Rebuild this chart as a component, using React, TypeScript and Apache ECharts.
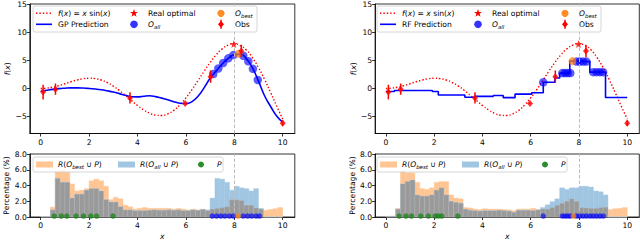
import { useEffect, useRef } from "react";
import * as echarts from "echarts";

// ---------------- data ----------------
const FX_X = [0, 0.25, 0.5, 0.75, 1, 1.25, 1.5, 1.75, 2, 2.25, 2.5, 2.75, 3, 3.25, 3.5, 3.75, 4, 4.25, 4.5, 4.75, 5, 5.25, 5.5, 5.75, 6, 6.25, 6.5, 6.75, 7, 7.25, 7.5, 7.75, 8, 8.25, 8.5, 8.75, 9, 9.25, 9.5, 9.75, 10];
const FX_Y = [0, 0.062, 0.24, 0.511, 0.841, 1.186, 1.496, 1.722, 1.819, 1.743, 1.496, 1.05, 0.423, -0.352, -1.228, -2.144, -3.027, -3.804, -4.399, -4.747, -4.795, -4.509, -3.898, -2.923, -1.676, -0.208, 1.402, 3.038, 4.599, 5.969, 7.035, 7.707, 7.915, 7.61, 6.847, 5.464, 3.709, 1.607, -0.712, -3.115, -5.44];

const GP_X = [0, 0.25, 0.5, 0.75, 1, 1.25, 1.5, 1.75, 2, 2.25, 2.5, 2.75, 3, 3.25, 3.5, 3.75, 4, 4.25, 4.5, 4.75, 5, 5.25, 5.5, 5.75, 6, 6.25, 6.5, 6.75, 7, 7.25, 7.5, 7.75, 8, 8.25, 8.5, 8.75, 9, 9.25, 9.5, 9.75, 10];
const GP_Y = [-0.5, -0.33, -0.17, -0.03, 0.05, 0.1, 0.1, 0.07, 0.0, -0.1, -0.23, -0.42, -0.64, -0.92, -1.22, -1.48, -1.5, -1.38, -1.3, -1.45, -1.72, -2.0, -2.35, -2.62, -2.7, -2.35, -1.4, 0.1, 1.8, 3.1, 4.35, 5.35, 6.0, 6.1, 5.3, 3.65, 1.3, -1.3, -3.2, -4.9, -6.0];

// random-forest step prediction: value holds from this x to the next x
const RF_X = [0, 0.35, 1.92, 2.17, 3.27, 3.69, 4.45, 4.86, 5.35, 6.04, 6.52, 7.0, 7.2, 7.62, 7.83, 8.45, 9.1, 10];
const RF_Y = [-0.55, -0.37, -0.55, -1.16, -1.55, -1.4, -1.25, -1.63, -1.0, -0.76, 1.1, 1.86, 2.73, 4.88, 4.77, 2.9, -1.6, -1.6];

const OBS_X = [0.1, 0.61, 3.69, 5.97, 7.02, 8.29, 10.0];
const OBS_Y = [-0.64, -0.12, -1.69, -2.67, 2.1, 6.65, -6.16];
const OBS_ERR = [1.3, 1.0, 1.0, 0.1, 1.1, 1.1, 0.5];
const REAL_OPT = [7.98, 7.9];

const GP_ALL_X = [7.13, 7.34, 7.54, 7.75, 7.96, 8.37, 8.58, 8.77, 8.97];
const GP_ALL_Y = [2.56, 3.55, 4.53, 5.35, 5.93, 5.81, 4.83, 3.49, 1.51];
const GP_BEST = [8.18, 6.16];

const RF_ALL_X = [6.52, 7.31, 7.42, 7.53, 7.64, 7.9, 8.03, 8.17, 8.31, 8.59, 8.73, 8.87, 9.0];
const RF_ALL_Y = [1.1, 2.73, 2.73, 2.73, 2.73, 4.77, 4.77, 4.77, 4.77, 2.9, 2.9, 2.9, 2.9];
const RF_BEST = [7.73, 4.85];

// histograms, 50 bins of width 0.2 starting at 0
const BIN_W = 0.2;
const BL_BEST = [0.05, 0.05, 1.25, 5.8, 6.0, 5.7, 4.2, 3.3, 3.4, 3.6, 4.6, 4.8, 4.6, 3.9, 2.2, 2.5, 2.3, 1.5, 1.3, 1.0, 1.1, 1.2, 1.1, 1.1, 1.1, 1.1, 1.1, 1.0, 1.1, 1.0, 0.9, 1.0, 0.9, 1.0, 0.8, 1.0, 1.1, 1.2, 1.3, 2.2, 2.2, 2.1, 1.5, 1.5, 1.15, 1.0, 0.85, 0.95, 1.05, 1.2];
const BL_ALL = [0.05, 0.05, 0.9, 4.9, 4.4, 4.4, 2.4, 2.9, 2.9, 3.4, 3.6, 3.6, 3.3, 2.2, 1.9, 1.9, 1.3, 0.9, 0.9, 0.8, 0.8, 0.8, 0.85, 0.9, 0.85, 0.85, 0.9, 0.85, 0.9, 0.8, 0.8, 0.9, 0.85, 0.95, 0.9, 2.4, 4.9, 4.8, 4.4, 3.4, 3.9, 3.7, 3.6, 3.3, 3.6, 1.1, 0, 0, 0, 0];
const BR_BEST = [0.08, 0.1, 1.1, 5.85, 5.6, 5.6, 4.4, 3.6, 3.5, 3.7, 4.4, 4.5, 4.5, 2.8, 2.4, 2.3, 1.2, 1.15, 1.0, 0.95, 1.05, 1.0, 1.0, 1.0, 0.95, 0.9, 0.8, 1.0, 1.0, 1.0, 1.1, 0.95, 1.0, 1.0, 1.2, 1.5, 1.75, 2.0, 2.3, 2.0, 1.2, 1.15, 1.1, 1.1, 1.2, 1.25, 0.95, 1.05, 1.1, 1.2];
const BR_ALL = [0.08, 0.1, 1.0, 4.2, 4.5, 4.7, 2.8, 2.65, 2.65, 2.8, 3.4, 3.7, 2.8, 2.0, 1.85, 1.75, 1.0, 0.85, 0.8, 0.75, 0.8, 0.8, 0.8, 0.85, 0.8, 0.75, 0.6, 0.85, 0.85, 0.85, 0.8, 0.9, 1.2, 1.55, 1.95, 2.3, 3.7, 3.5, 3.7, 3.7, 3.9, 3.9, 3.8, 3.3, 3.2, 2.8, 0, 0, 0, 0];

const MARK_Y = 0.12;
const BL_P_X = [0.56, 0.85, 1.08, 1.46, 1.77, 2.07, 2.31, 2.99];
const BL_ALL_X = [7.09, 7.27, 7.44, 7.61, 7.8, 7.96, 8.37, 8.55, 8.72, 8.9, 9.04];
const BL_BEST_X = [8.15];
const BR_P_X = [0.55, 0.83, 1.06, 1.44, 1.76, 2.04, 2.17, 2.31, 2.98];
const BR_ALL_X = [6.52, 7.31, 7.42, 7.53, 7.64, 7.9, 8.03, 8.17, 8.31, 8.46, 8.59, 8.73, 8.87, 9.01];
const BR_BEST_X = [7.77];

const X_TICKS = [0, 2, 4, 6, 8, 10];
const TOP_Y_TICKS = [-5, 0, 5, 10, 15];
const OPT_LINE_X = 8;

// ---------------- styling ----------------
const FONT = "DejaVu Sans";
const FS = 7.6;
const RED = "#ff0000";
const BLUE = "#0000ff";
const C_BEST = "rgba(255,127,14,0.9)";
const C_ALL = "rgba(0,0,255,0.8)";
const C_P = "rgba(20,130,20,0.9)";
const H_ORANGE = "#ffc593";
const H_BLUE = "#a0c6e2";
const H_GRAY = "#9a9a9a";
const STAR = "path://M0,-10L2.35,-3.24L9.51,-3.09L3.8,1.24L5.88,8.09L0,4L-5.88,8.09L-3.8,1.24L-9.51,-3.09L-2.35,-3.24Z";

const fmtMinus = (v: number) => (v < 0 ? "\u2212" + Math.abs(v) : String(v));

const GRIDS = [
  { left: 29.8, top: 2.5, width: 265.0, height: 131 },
  { left: 375.1, top: 2.5, width: 264.2, height: 131 },
  { left: 29.8, top: 154, width: 265.0, height: 65.3 },
  { left: 375.1, top: 154, width: 264.2, height: 65.3 },
];

function xAxis(i: number, withName: boolean) {
  return {
    type: "value",
    gridIndex: i,
    min: -0.45,
    max: 10.5,
    axisLine: { show: true, onZero: false, lineStyle: { color: "#000", width: 0.8 } },
    axisTick: { show: true, length: 3, customValues: X_TICKS, lineStyle: { color: "#000", width: 0.8 } },
    axisLabel: { customValues: X_TICKS, fontSize: FS, fontFamily: FONT, color: "#000", margin: 4.5 },
    splitLine: { show: false },
    name: withName ? "x" : "",
    nameLocation: "middle",
    nameGap: 15,
    nameTextStyle: { fontSize: FS, fontFamily: FONT, fontStyle: "italic", color: "#000" },
  };
}

function yAxisTop(i: number) {
  return {
    type: "value",
    gridIndex: i,
    min: -8,
    max: 15,
    axisLine: { show: true, onZero: false, lineStyle: { color: "#000", width: 0.8 } },
    axisTick: { show: true, length: 3, customValues: TOP_Y_TICKS, lineStyle: { color: "#000", width: 0.8 } },
    axisLabel: { customValues: TOP_Y_TICKS, fontSize: FS, fontFamily: FONT, color: "#000", margin: 3, formatter: fmtMinus },
    splitLine: { show: false },
    name: "{i|f}({i|x})",
    nameLocation: "middle",
    nameRotate: 90,
    nameGap: 16,
    nameTextStyle: {
      fontSize: FS, fontFamily: FONT, color: "#000",
      rich: { i: { fontSize: FS, fontFamily: FONT, fontStyle: "italic", color: "#000" } },
    },
  };
}

function yAxisBottom(i: number) {
  return {
    type: "value",
    gridIndex: i,
    min: 0,
    max: 8,
    interval: 2,
    axisLine: { show: true, onZero: false, lineStyle: { color: "#000", width: 0.8 } },
    axisTick: { show: true, length: 3, lineStyle: { color: "#000", width: 0.8 } },
    axisLabel: { fontSize: FS, fontFamily: FONT, color: "#000", margin: 3, formatter: (v: number) => v.toFixed(1) },
    splitLine: { show: false },
    name: "Percentage (%)",
    nameLocation: "middle",
    nameRotate: 90,
    nameGap: 17,
    nameTextStyle: { fontSize: FS, fontFamily: FONT, color: "#000" },
  };
}

const optMarkLine = {
  silent: true,
  symbol: "none",
  label: { show: false },
  lineStyle: { color: "#bdbdbd", type: [3.5, 2], width: 1 },
  data: [{ xAxis: OPT_LINE_X }],
};

const pairs = (xs: number[], ys: number[]) => xs.map((x, k) => [x, ys[k]]);

function topSeries(i: number, kind: "gp" | "rf") {
  const predX = kind === "gp" ? GP_X : RF_X;
  const predY = kind === "gp" ? GP_Y : RF_Y;
  const allX = kind === "gp" ? GP_ALL_X : RF_ALL_X;
  const allY = kind === "gp" ? GP_ALL_Y : RF_ALL_Y;
  const best = kind === "gp" ? GP_BEST : RF_BEST;
  return [
    {
      type: "line", xAxisIndex: i, yAxisIndex: i, z: 2, smooth: true, symbol: "none",
      data: pairs(FX_X, FX_Y),
      lineStyle: { color: RED, width: 1.4, type: [1.4, 2] },
      markLine: optMarkLine,
    },
    {
      type: "line", xAxisIndex: i, yAxisIndex: i, z: 3, symbol: "none",
      smooth: kind === "gp",
      step: kind === "rf" ? "end" : false,
      data: pairs(predX, predY),
      lineStyle: { color: BLUE, width: 1.6 },
    },
    {
      type: "scatter", xAxisIndex: i, yAxisIndex: i, z: 4, symbol: "circle", symbolSize: 8.5,
      data: pairs(allX, allY), itemStyle: { color: C_ALL },
    },
    {
      type: "scatter", xAxisIndex: i, yAxisIndex: i, z: 5, symbol: "circle", symbolSize: 8,
      data: [best], itemStyle: { color: C_BEST },
    },
    {
      type: "scatter", xAxisIndex: i, yAxisIndex: i, z: 6, symbol: STAR, symbolSize: 8,
      data: [REAL_OPT], itemStyle: { color: RED },
    },
    {
      type: "custom", xAxisIndex: i, yAxisIndex: i, z: 7,
      data: OBS_X.map((x, k) => [x, OBS_Y[k], OBS_ERR[k]]),
      encode: { x: 0, y: 1 },
      renderItem: (_p: any, api: any) => {
        const x = api.value(0), y = api.value(1), e = api.value(2);
        const a = api.coord([x, y - e]);
        const b = api.coord([x, y + e]);
        return { type: "line", shape: { x1: a[0], y1: a[1], x2: b[0], y2: b[1] }, style: { stroke: RED, lineWidth: 1.5 } };
      },
    },
    {
      type: "scatter", xAxisIndex: i, yAxisIndex: i, z: 8, symbol: "diamond", symbolSize: [6, 7],
      data: pairs(OBS_X, OBS_Y), itemStyle: { color: RED },
    },
  ];
}

function histRect(i: number, heights: number[], fill: string, stroke: string, z: number, withLine: boolean) {
  const s: any = {
    type: "custom", xAxisIndex: i, yAxisIndex: i, z,
    data: heights.map((h, k) => [k * BIN_W, (k + 1) * BIN_W, h]),
    encode: { x: [0, 1], y: 2 },
    renderItem: (_p: any, api: any) => {
      const p0 = api.coord([api.value(0), api.value(2)]);
      const p1 = api.coord([api.value(1), 0]);
      return {
        type: "rect",
        shape: { x: p0[0], y: p0[1], width: p1[0] - p0[0], height: p1[1] - p0[1] },
        style: { fill, stroke, lineWidth: 0.4 },
      };
    },
  };
  if (withLine) s.markLine = optMarkLine;
  return s;
}

function bottomSeries(i: number, best: number[], all: number[], pX: number[], allX: number[], bestX: number[]) {
  const overlap = best.map((b, k) => Math.min(b, all[k]));
  const marks = (xs: number[]) => xs.map((x) => [x, MARK_Y]);
  return [
    histRect(i, best, H_ORANGE, H_ORANGE, 2, true),
    histRect(i, all, H_BLUE, H_BLUE, 3, false),
    histRect(i, overlap, H_GRAY, "rgba(255,255,255,0.25)", 4, false),
    { type: "scatter", xAxisIndex: i, yAxisIndex: i, z: 6, symbolSize: 5.5, data: marks(pX), itemStyle: { color: C_P } },
    { type: "scatter", xAxisIndex: i, yAxisIndex: i, z: 6, symbolSize: 5.5, data: marks(allX), itemStyle: { color: C_ALL } },
    { type: "scatter", xAxisIndex: i, yAxisIndex: i, z: 7, symbolSize: 5.5, data: marks(bestX), itemStyle: { color: C_BEST } },
  ];
}

// ---------------- legends (graphic) ----------------
const RICH = {
  r: { fontFamily: FONT, fontSize: FS, fill: "#000", lineHeight: 10 },
  i: { fontFamily: FONT, fontSize: FS, fontStyle: "italic", fill: "#000", lineHeight: 10 },
  s: { fontFamily: FONT, fontSize: 5.4, fontStyle: "italic", fill: "#000", lineHeight: 5, verticalAlign: "bottom" },
};
const LBL_F = "{i|f}{r|(}{i|x}{r|) = }{i|x}{r| sin(}{i|x}{r|)}";
const LBL_BEST = "{i|O}{s|best}";
const LBL_ALL = "{i|O}{s|all}";
const LBL_RBEST = "{i|R}{r|(}{i|O}{s|best}{r| \u222a }{i|P}{r|)}";
const LBL_RALL = "{i|R}{r|(}{i|O}{s|all}{r| \u222a }{i|P}{r|)}";

const txt = (x: number, y: number, text: string) => ({
  type: "text", x, y, z: 101,
  style: { text, rich: RICH, fontFamily: FONT, fontSize: FS, fill: "#000", align: "left", verticalAlign: "middle" },
});

function starPoints(cx: number, cy: number, R: number) {
  const pts: number[][] = [];
  for (let k = 0; k < 10; k++) {
    const a = -Math.PI / 2 + (k * Math.PI) / 5;
    const r = k % 2 === 0 ? R : R * 0.4;
    pts.push([cx + r * Math.cos(a), cy + r * Math.sin(a)]);
  }
  return pts;
}

function topLegend(ox: number, predName: string) {
  const y1 = 13.3, y2 = 24.3;
  return [
    { type: "rect", z: 100, shape: { x: ox, y: 6, width: 224, height: 26, r: 2 }, style: { fill: "rgba(255,255,255,0.8)", stroke: "#cccccc", lineWidth: 0.8 } },
    { type: "line", z: 101, shape: { x1: ox + 3, y1, x2: ox + 19, y2: y1 }, style: { stroke: RED, lineWidth: 1.4, lineDash: [1.4, 2] } },
    txt(ox + 25, y1, LBL_F),
    { type: "line", z: 101, shape: { x1: ox + 3, y1: y2, x2: ox + 19, y2 }, style: { stroke: BLUE, lineWidth: 1.6 } },
    txt(ox + 25, y2, "{r|" + predName + "}"),
    { type: "polygon", z: 101, shape: { points: starPoints(ox + 101, y1, 4.2) }, style: { fill: RED } },
    txt(ox + 115, y1, "{r|Real optimal}"),
    { type: "circle", z: 101, shape: { cx: ox + 101, cy: y2, r: 3.8 }, style: { fill: C_ALL } },
    txt(ox + 115, y2, LBL_ALL),
    { type: "circle", z: 101, shape: { cx: ox + 188, cy: y1, r: 3.6 }, style: { fill: C_BEST } },
    txt(ox + 202, y1, LBL_BEST),
    { type: "line", z: 101, shape: { x1: ox + 188, y1: y2 - 4.5, x2: ox + 188, y2: y2 + 4.5 }, style: { stroke: RED, lineWidth: 1.5 } },
    { type: "polygon", z: 102, shape: { points: [[ox + 188, y2 - 3.4], [ox + 191, y2], [ox + 188, y2 + 3.4], [ox + 185, y2]] }, style: { fill: RED } },
    txt(ox + 202, y2, "{r|Obs}"),
  ];
}

function bottomLegend(ox: number) {
  const y = 164.5;
  return [
    { type: "rect", z: 100, shape: { x: ox, y: 157, width: 190, height: 15, r: 2 }, style: { fill: "rgba(255,255,255,0.8)", stroke: "#cccccc", lineWidth: 0.8 } },
    { type: "rect", z: 101, shape: { x: ox + 3, y: y - 3, width: 17, height: 6 }, style: { fill: H_ORANGE } },
    txt(ox + 25, y, LBL_RBEST),
    { type: "rect", z: 101, shape: { x: ox + 85, y: y - 3, width: 17, height: 6 }, style: { fill: H_BLUE } },
    txt(ox + 107, y, LBL_RALL),
    { type: "circle", z: 101, shape: { cx: ox + 168, cy: y, r: 3 }, style: { fill: C_P } },
    txt(ox + 184, y, "{i|P}"),
  ];
}

const option: any = {
  animation: false,
  backgroundColor: "#ffffff",
  textStyle: { fontFamily: FONT },
  grid: GRIDS.map((g) => ({ ...g, show: true, borderColor: "#000", borderWidth: 0.8, backgroundColor: "transparent", containLabel: false })),
  xAxis: [xAxis(0, false), xAxis(1, false), xAxis(2, true), xAxis(3, true)],
  yAxis: [yAxisTop(0), yAxisTop(1), yAxisBottom(2), yAxisBottom(3)],
  series: [
    ...topSeries(0, "gp"),
    ...topSeries(1, "rf"),
    ...bottomSeries(2, BL_BEST, BL_ALL, BL_P_X, BL_ALL_X, BL_BEST_X),
    ...bottomSeries(3, BR_BEST, BR_ALL, BR_P_X, BR_ALL_X, BR_BEST_X),
  ],
  graphic: [
    ...topLegend(33, "GP Prediction"),
    ...topLegend(377, "RF Prediction"),
    ...bottomLegend(33),
    ...bottomLegend(377),
  ],
};

export default function App() {
  const ref = useRef<HTMLDivElement>(null);
  useEffect(() => {
    if (!ref.current) return;
    const chart = echarts.init(ref.current, null, { renderer: "svg", width: 640, height: 241 });
    chart.setOption(option);
    return () => chart.dispose();
  }, []);
  return (
    <div
      ref={ref}
      style={{ position: "fixed", left: 0, top: 0, width: 640, height: 241, background: "#fff" }}
    />
  );
}
